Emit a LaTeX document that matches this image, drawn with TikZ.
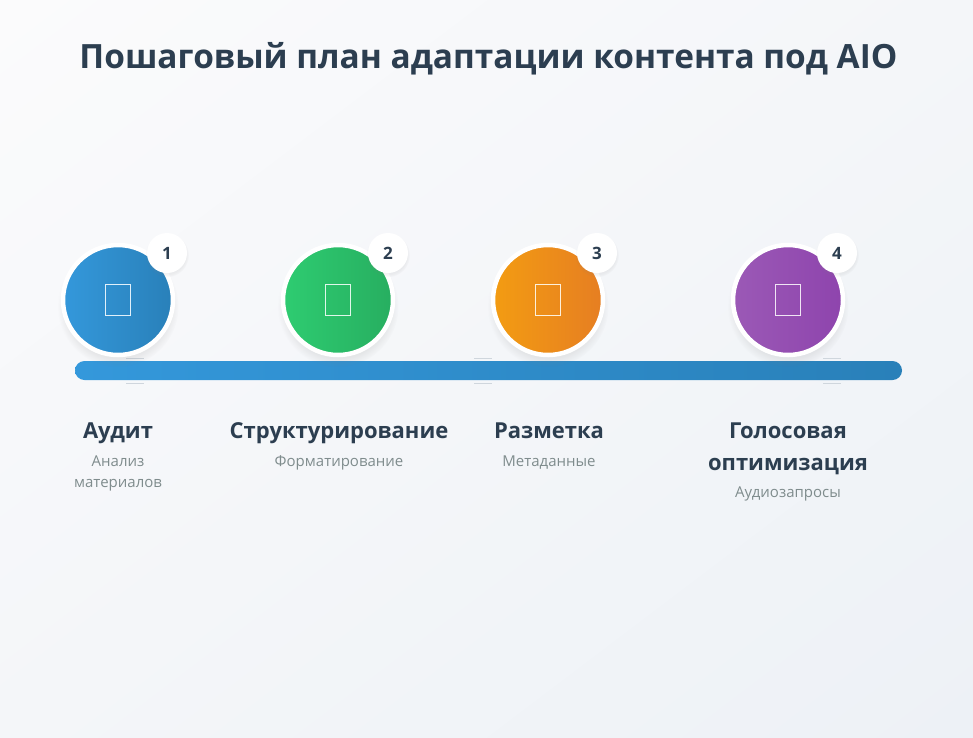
\documentclass[tikz,border=0pt]{standalone}
\usepackage{fontspec}
\setmainfont{Open Sans}
\usetikzlibrary{positioning,shadows,shadings}

\definecolor{ink}{HTML}{2C3E50}
\definecolor{muted}{HTML}{7F8C8D}
\definecolor{bgstart}{HTML}{FBFBFC}
\definecolor{bgmid}{HTML}{F4F6F9}
\definecolor{bgend}{HTML}{EDF1F6}
\definecolor{blueA}{HTML}{3498DB}\definecolor{blueB}{HTML}{2980B9}
\definecolor{greenA}{HTML}{2ECC71}\definecolor{greenB}{HTML}{27AE60}
\definecolor{orangeA}{HTML}{F39C12}\definecolor{orangeB}{HTML}{E67E22}
\definecolor{purpleA}{HTML}{9B59B6}\definecolor{purpleB}{HTML}{8E44AD}
\definecolor{tickgray}{HTML}{CFD6DD}

\begin{document}
\begin{tikzpicture}[x=1pt,y=-1pt,
  stepdisc/.style={circle,minimum size=110pt,draw=white,line width=4.5pt,
    shading angle=135,circular drop shadow={shadow xshift=0pt,shadow yshift=-6pt,opacity=0.14}},
  badge/.style={circle,fill=white,minimum size=40pt,inner sep=0pt,text=ink,
    font=\fontsize{17}{20}\selectfont\bfseries,
    circular drop shadow={shadow xshift=0pt,shadow yshift=-2pt,opacity=0.10}},
  iconbox/.style={rectangle,minimum width=25pt,minimum height=31pt,inner sep=0pt,line width=1.6pt},
  steptitle/.style={anchor=base,text=ink,font=\fontsize{22}{32}\selectfont\bfseries,align=center},
  stepsub/.style={anchor=base,text=muted,font=\fontsize{15}{21}\selectfont,align=center},
  tick/.style={tickgray,line width=0.8pt}]
  \useasboundingbox (0,0) rectangle (973,737);
  \shade[upper left=bgstart,upper right=bgmid,lower left=bgmid,lower right=bgend] (0,0) rectangle (973,737);

  % title
  \node[anchor=base,text=ink,font=\fontsize{33.4}{40}\selectfont\bfseries] (title) at (488.5,68.5) {Пошаговый план адаптации контента под AIO};

  % timeline bar
  \node[rectangle,rounded corners=9.5pt,minimum width=827pt,minimum height=19pt,inner sep=0pt,
    left color=blueA,right color=blueB] (bar) at (488.5,370.5) {};
  \foreach \x in {135,483,832}
    \draw[tick] (\x-9,358) -- (\x+9,358) (\x-9,383) -- (\x+9,383);

  % steps
  \node[stepdisc,left color=blueA,right color=blueB]     (c1) at (118,300) {};
  \node[stepdisc,left color=greenA,right color=greenB]   (c2) at (338,300) {};
  \node[stepdisc,left color=orangeA,right color=orangeB] (c3) at (548,300) {};
  \node[stepdisc,left color=purpleA,right color=purpleB] (c4) at (788,300) {};

  \node[iconbox,draw=white!85!blueA]   (i1) at (c1) {};
  \node[iconbox,draw=white!85!greenA]  (i2) at (c2) {};
  \node[iconbox,draw=white!85!orangeA] (i3) at (c3) {};
  \node[iconbox,draw=white!85!purpleA] (i4) at (c4) {};

  \node[badge] (b1) at (167,253) {1};
  \node[badge] (b2) at (388,253) {2};
  \node[badge] (b3) at (597,253) {3};
  \node[badge] (b4) at (837,253) {4};

  % labels (base = last line)
  \node[steptitle] (t1) at (118,438) {Аудит};
  \node[steptitle] (t2) at (339,438) {Структурирование};
  \node[steptitle] (t3) at (549,438) {Разметка};
  \node[steptitle] (t4) at (788,470) {Голосовая\\оптимизация};

  \node[stepsub] (s1) at (118,487.5) {Анализ\\материалов};
  \node[stepsub] (s2) at (339,466.5) {Форматирование};
  \node[stepsub] (s3) at (549,466.5) {Метаданные};
  \node[stepsub] (s4) at (788,497) {Аудиозапросы};
\end{tikzpicture}
\end{document}
